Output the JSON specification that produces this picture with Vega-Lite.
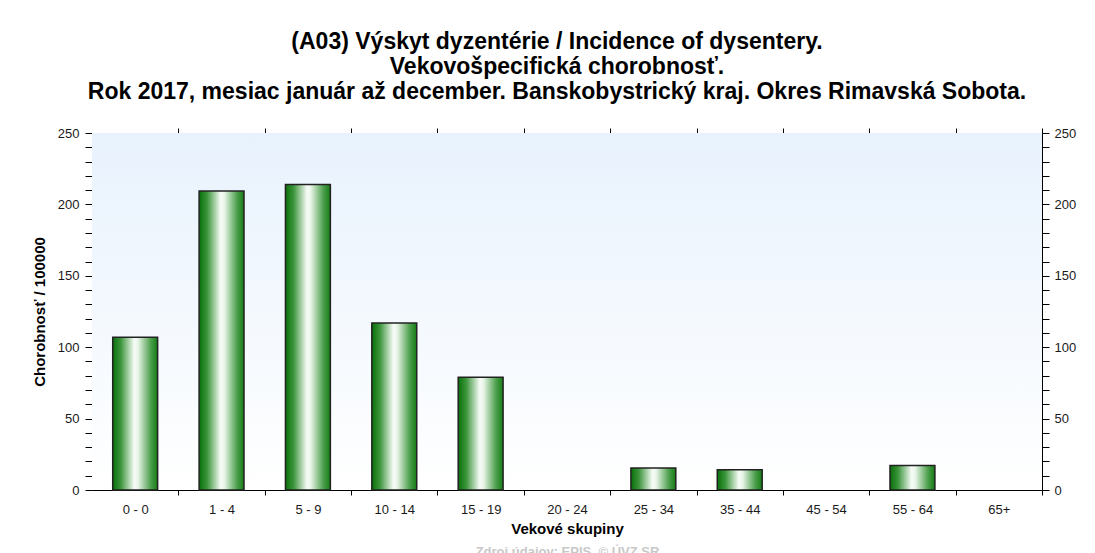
{
  "$schema": "https://vega.github.io/schema/vega-lite/v6.json",
  "width": 950,
  "height": 357,
  "autosize": {"type": "none"},
  "padding": {"left": 92, "top": 133, "right": 53, "bottom": 63},
  "background": "white",
  "title": {
    "text": ["(A03) Výskyt dyzentérie / Incidence of dysentery.", "Vekovošpecifická chorobnosť.", "Rok 2017, mesiac január až december. Banskobystrický kraj. Okres Rimavská Sobota."],
    "font": "Liberation Sans",
    "fontSize": 23,
    "fontWeight": "bold",
    "lineHeight": 25,
    "color": "#000000",
    "anchor": "middle",
    "dx": -10,
    "offset": 23
  },
  "data": {
    "values": [
      {"age": "0 - 0", "value": 107},
      {"age": "1 - 4", "value": 209.3},
      {"age": "5 - 9", "value": 214},
      {"age": "10 - 14", "value": 117},
      {"age": "15 - 19", "value": 79},
      {"age": "20 - 24", "value": 0},
      {"age": "25 - 34", "value": 15.4},
      {"age": "35 - 44", "value": 14.2},
      {"age": "45 - 54", "value": 0},
      {"age": "55 - 64", "value": 17.2},
      {"age": "65+", "value": 0}
    ]
  },
  "config": {
    "view": {"stroke": null},
    "axis": {
      "labelFont": "Liberation Sans",
      "titleFont": "Liberation Sans",
      "labelFontSize": 13,
      "labelColor": "#1a1a1a",
      "titleColor": "#000000",
      "domainColor": "#000000",
      "tickColor": "#000000",
      "domainWidth": 1,
      "tickWidth": 1,
      "grid": false
    }
  },
  "resolve": {
    "scale": {"x": "shared", "y": "shared"},
    "axis": {"x": "independent", "y": "independent"}
  },
  "layer": [
    {
      "data": {"values": [{}]},
      "mark": {
        "type": "rect",
        "color": {
          "gradient": "linear",
          "x1": 0, "y1": 0, "x2": 0, "y2": 1,
          "stops": [
            {"offset": 0, "color": "#e8f2fd"},
            {"offset": 1, "color": "#ffffff"}
          ]
        }
      },
      "encoding": {
        "y": {"datum": 250, "type": "quantitative", "scale": {"domain": [0, 250], "nice": false}, "axis": null},
        "y2": {"datum": 0}
      }
    },
    {
      "transform": [{"filter": "datum.value > 0"}],
      "mark": {
        "type": "bar",
        "stroke": "#222222",
        "strokeWidth": 1.5,
        "color": {
          "gradient": "linear",
          "x1": 0, "y1": 0, "x2": 1, "y2": 0,
          "stops": [
            {"offset": 0, "color": "#087008"},
            {"offset": 0.18, "color": "#3c953c"},
            {"offset": 0.48, "color": "#f6fbf6"},
            {"offset": 0.56, "color": "#eaf5ea"},
            {"offset": 0.85, "color": "#4a9e4a"},
            {"offset": 1, "color": "#157c15"}
          ]
        }
      },
      "encoding": {
        "x": {
          "field": "age", "type": "nominal", "sort": null,
          "scale": {
            "domain": ["0 - 0", "1 - 4", "5 - 9", "10 - 14", "15 - 19", "20 - 24", "25 - 34", "35 - 44", "45 - 54", "55 - 64", "65+"],
            "paddingInner": 0.48, "paddingOuter": 0.24
          },
          "axis": {
            "orient": "bottom",
            "title": "Vekové skupiny",
            "titleFontSize": 15,
            "titleFontWeight": "bold",
            "titlePadding": 5,
            "labelAngle": 0,
            "tickBand": "center",
            "tickOffset": 43.18,
            "labelOffset": -43.18,
            "tickSize": 5,
            "labelPadding": 8,
            "encode": {"ticks": {"update": {"y": {"value": -5}, "y2": {"value": 5}}}}
          }
        },
        "y": {
          "field": "value", "type": "quantitative", "stack": null,
          "scale": {"domain": [0, 250], "nice": false},
          "axis": {
            "orient": "left",
            "values": [0, 10, 20, 30, 40, 50, 60, 70, 80, 90, 100, 110, 120, 130, 140, 150, 160, 170, 180, 190, 200, 210, 220, 230, 240, 250],
            "labelExpr": "datum.value % 50 === 0 ? datum.label : ''",
            "labelOverlap": false,
            "title": "Chorobnosť / 100000",
            "titleFontSize": 15,
            "titleFontWeight": "bold",
            "titlePadding": 10,
            "tickSize": 7,
            "labelPadding": 6,
            "encode": {"ticks": {"update": {
              "x": {"signal": "datum.value % 50 === 0 ? 7 : 3"},
              "x2": {"signal": "datum.value % 50 === 0 ? -7 : -3"}
            }}}
          }
        }
      }
    },
    {
      "mark": {"type": "bar", "opacity": 0},
      "encoding": {
        "x": {
          "field": "age", "type": "nominal", "sort": null,
          "axis": {"orient": "top", "title": null, "labels": false, "tickBand": "center", "tickOffset": 43.18, "tickSize": 5}
        },
        "y": {
          "field": "value", "type": "quantitative", "stack": null,
          "axis": {
            "orient": "right",
            "values": [0, 10, 20, 30, 40, 50, 60, 70, 80, 90, 100, 110, 120, 130, 140, 150, 160, 170, 180, 190, 200, 210, 220, 230, 240, 250],
            "labelExpr": "datum.value % 50 === 0 ? datum.label : ''",
            "labelOverlap": false,
            "title": null,
            "tickSize": 7,
            "labelPadding": 5,
            "encode": {"ticks": {"update": {
              "x": {"signal": "datum.value % 50 === 0 ? -7 : -3"},
              "x2": {"signal": "datum.value % 50 === 0 ? 7 : 3"}
            }}}
          }
        }
      }
    },
    {
      "mark": {"type": "bar", "opacity": 0},
      "encoding": {
        "x": {
          "field": "age", "type": "nominal", "sort": null,
          "axis": {
            "orient": "bottom",
            "title": "Zdroj údajov: EPIS, © ÚVZ SR",
            "titleColor": "#c8c8c8",
            "titleFontSize": 13,
            "titleFontWeight": "bold",
            "titlePadding": 55,
            "labels": false,
            "ticks": false,
            "domain": false
          }
        },
        "y": {"field": "value", "type": "quantitative", "stack": null, "axis": null}
      }
    }
  ]
}
